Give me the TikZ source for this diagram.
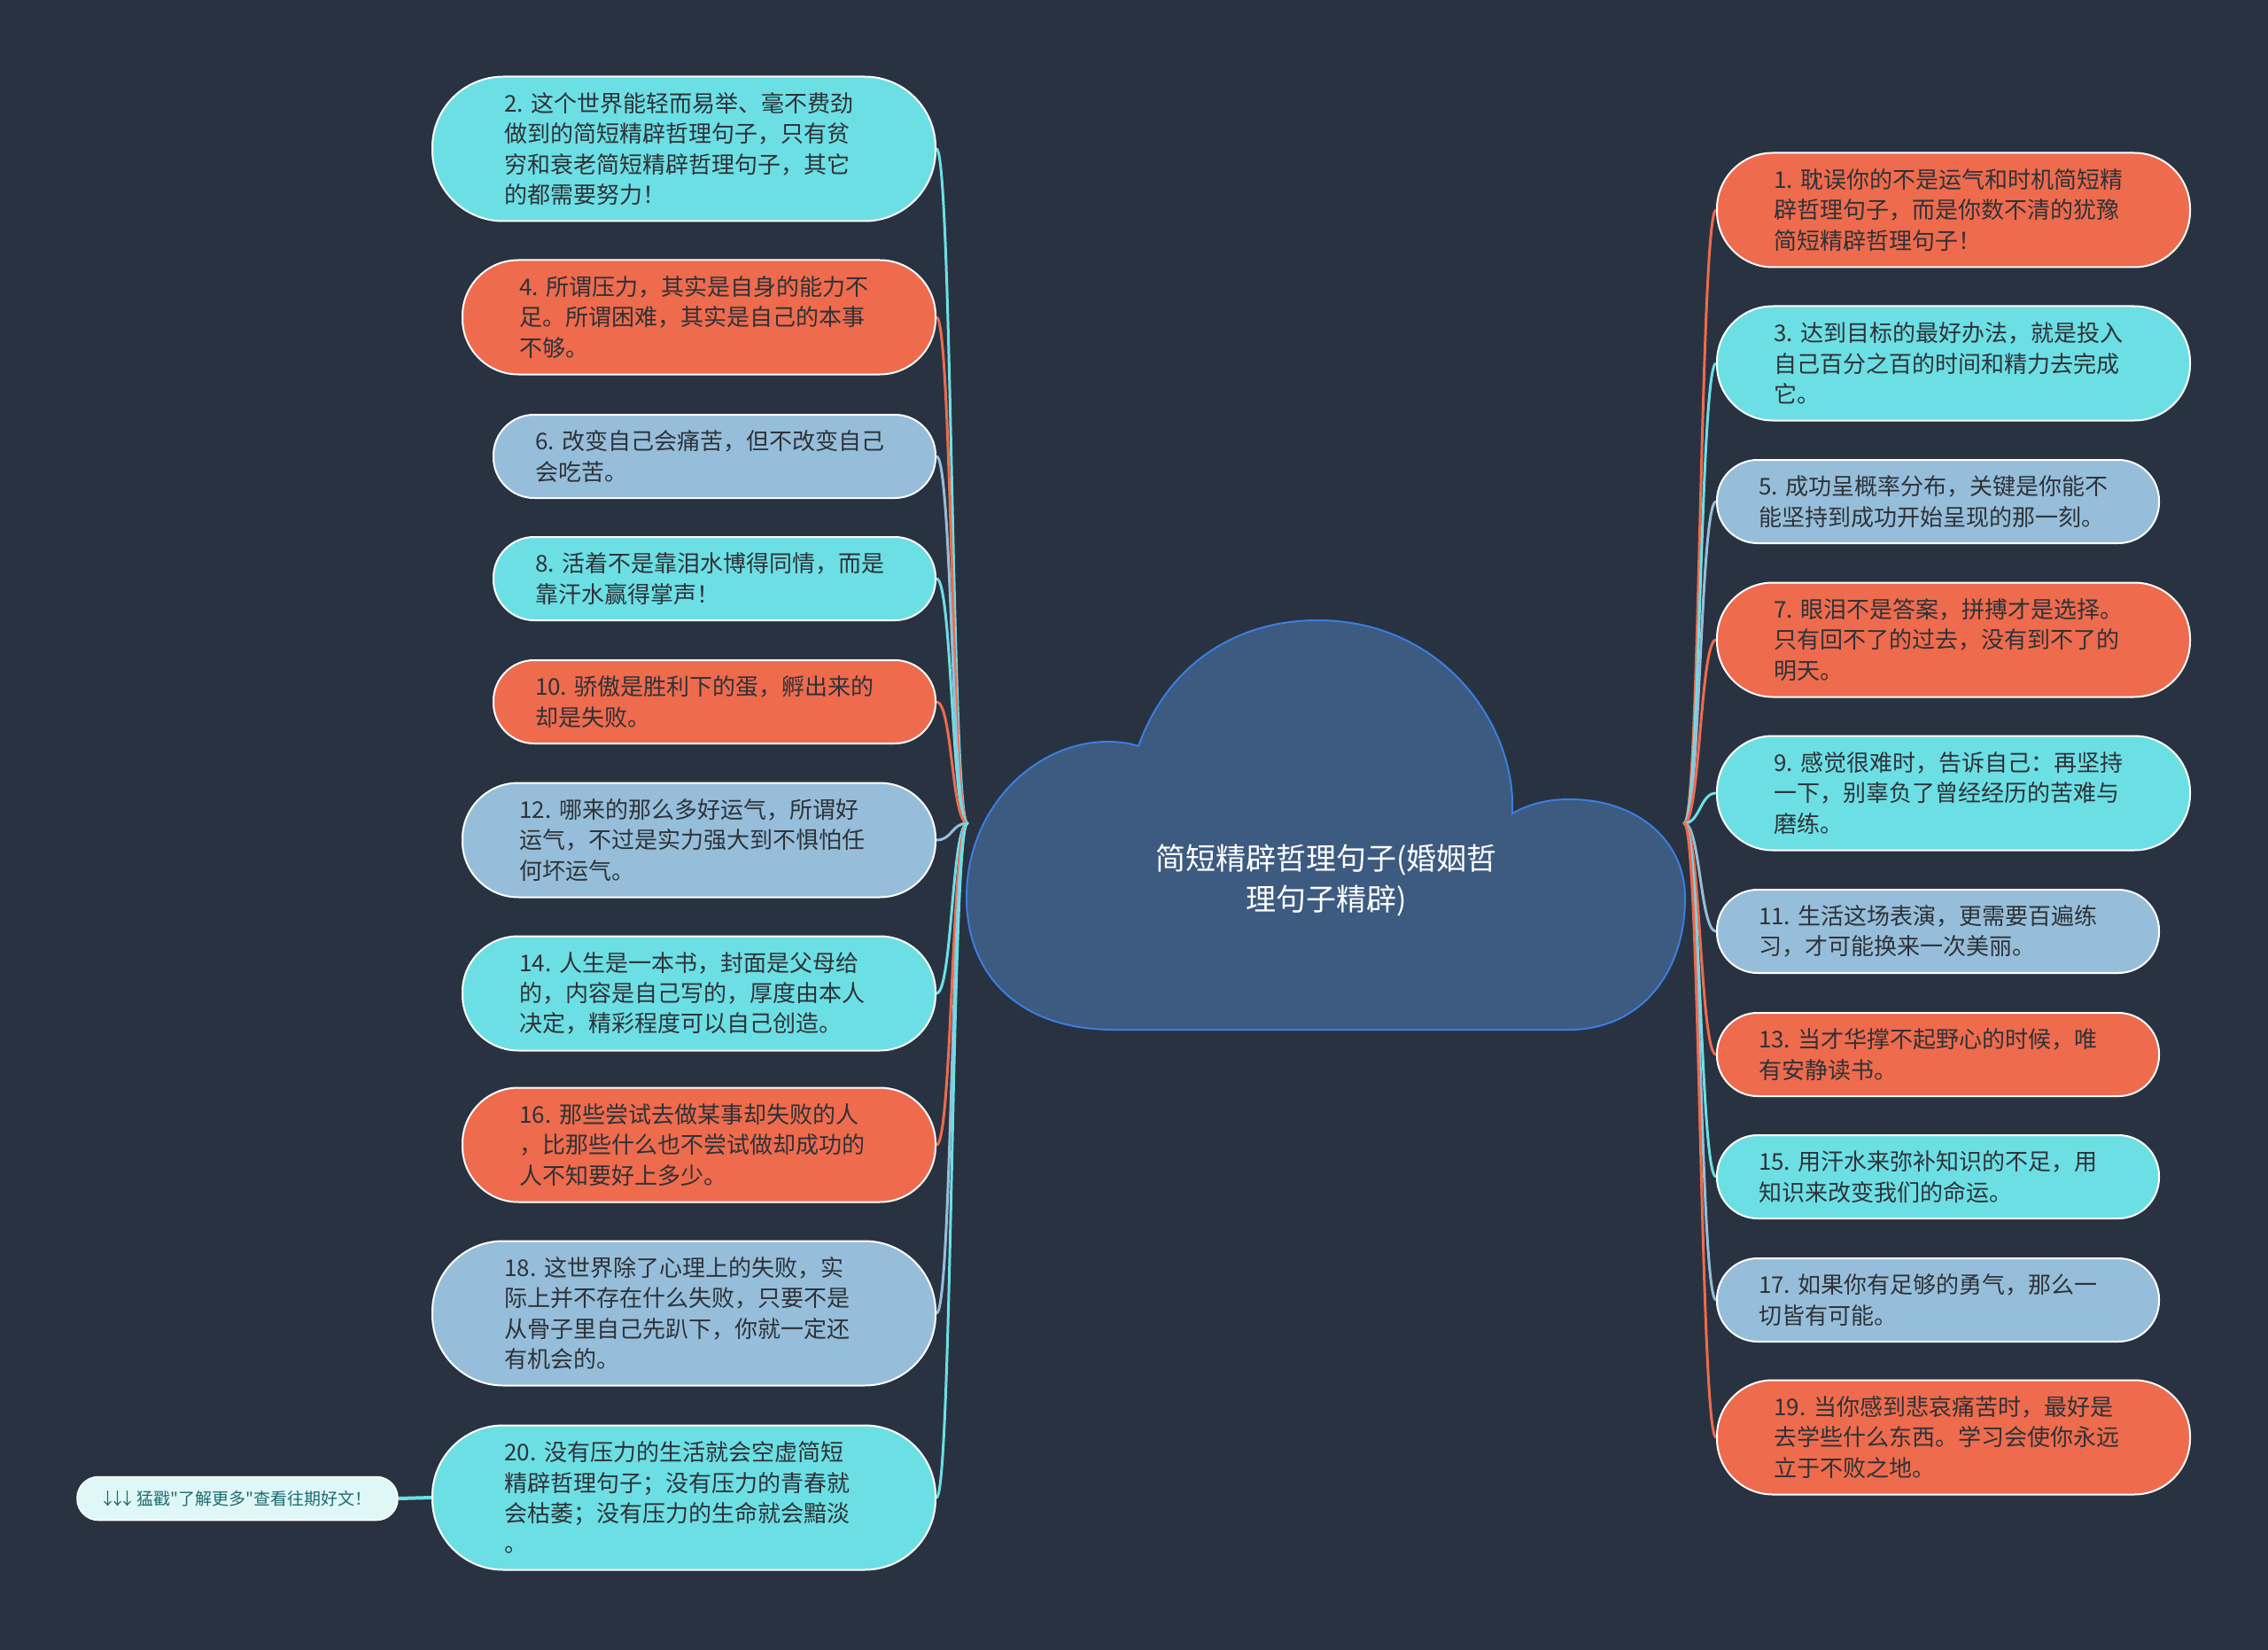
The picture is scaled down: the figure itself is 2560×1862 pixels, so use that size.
\documentclass[tikz,border=0pt]{standalone}
\usepackage{fontspec}
\newfontfamily\cjk{Noto Sans CJK SC}
\pgfdeclarelayer{bglayer}
\pgfdeclarelayer{linklayer}
\pgfsetlayers{bglayer,linklayer,main}
\definecolor{bgc}{HTML}{293241}
\definecolor{cyc}{HTML}{6CDFE4}
\definecolor{orc}{HTML}{EE6B4D}
\definecolor{lbc}{HTML}{96BEDA}
\definecolor{txc}{HTML}{2E3238}
\definecolor{cloudfill}{HTML}{3D5A80}
\definecolor{cloudline}{HTML}{3C7EE0}
\definecolor{tagfill}{HTML}{E0F7F7}
\definecolor{tagtext}{HTML}{1D6B70}
\tikzset{
  pill/.style={draw=white, line width=2pt, text=txc, align=left, text width=405pt,
    inner sep=0pt, font=\cjk\fontsize{26}{34.3}\selectfont},
  twol/.style={minimum height=94pt, minimum width=499pt, rounded corners=46pt},
  threel/.style={minimum height=129pt, minimum width=534pt, rounded corners=63pt},
  fourl/.style={minimum height=163pt, minimum width=568pt, rounded corners=80pt},
  cyanbox/.style={fill=cyc},
  orbox/.style={fill=orc},
  lbbox/.style={fill=lbc},
  link/.style={line width=3pt, line cap=round},
  tagbox/.style={draw=white, line width=1.5pt, fill=tagfill, text=tagtext,
    minimum width=362pt, minimum height=49pt, rounded corners=24pt, inner sep=0pt,
    font=\cjk\fontsize{19}{22}\selectfont},
  roottext/.style={text=white, align=center, font=\cjk\fontsize{34}{46}\selectfont}
}
\begin{document}
\begin{tikzpicture}[x=1pt,y=-1pt]
\useasboundingbox (0,0) rectangle (2560,1862);
\begin{pgfonlayer}{bglayer}
\fill[bgc] (0,0) rectangle (2560,1862);
\end{pgfonlayer}

% central cloud
\draw[fill=cloudfill, draw=cloudline, line width=2pt]
  (1257,1162) .. controls (1150,1162) and (1091,1100) .. (1091,1013)
  .. controls (1091,910) and (1170,837) .. (1250,837)
  .. controls (1265,837) and (1276,839) .. (1285,842)
  .. controls (1320,745) and (1400,700) .. (1487,700)
  .. controls (1630,700) and (1712,820) .. (1707,918)
  .. controls (1728,906) and (1750,902) .. (1771,902)
  .. controls (1850,902) and (1902,950) .. (1902,1013)
  .. controls (1902,1100) and (1850,1162) .. (1771,1162)
  -- cycle;
\node[roottext] (root) at (1497,993) {简短精辟哲理句子(婚姻哲\\理句子精辟)};
\coordinate (hubL) at (1092,929);
\coordinate (hubR) at (1901,929);

% left branch
\node[pill,fourl,cyanbox] (n2) at (772,168) {2.~这个世界能轻而易举、毫不费劲\\做到的简短精辟哲理句子，只有贫\\穷和衰老简短精辟哲理句子，其它\\的都需要努力！};
\node[pill,threel,orbox] (n4) at (789,358) {4.~所谓压力，其实是自身的能力不\\足。所谓困难，其实是自己的本事\\不够。};
\node[pill,twol,lbbox] (n6) at (806.5,515) {6.~改变自己会痛苦，但不改变自己\\会吃苦。};
\node[pill,twol,cyanbox] (n8) at (806.5,653) {8.~活着不是靠泪水博得同情，而是\\靠汗水赢得掌声！};
\node[pill,twol,orbox] (n10) at (806.5,792) {10.~骄傲是胜利下的蛋，孵出来的\\却是失败。};
\node[pill,threel,lbbox] (n12) at (789,948) {12.~哪来的那么多好运气，所谓好\\运气，不过是实力强大到不惧怕任\\何坏运气。};
\node[pill,threel,cyanbox] (n14) at (789,1121) {14.~人生是一本书，封面是父母给\\的，内容是自己写的，厚度由本人\\决定，精彩程度可以自己创造。};
\node[pill,threel,orbox] (n16) at (789,1292) {16.~那些尝试去做某事却失败的人\\，比那些什么也不尝试做却成功的\\人不知要好上多少。};
\node[pill,fourl,lbbox] (n18) at (772,1482) {18.~这世界除了心理上的失败，实\\际上并不存在什么失败，只要不是\\从骨子里自己先趴下，你就一定还\\有机会的。};
\node[pill,fourl,cyanbox] (n20) at (772,1690) {20.~没有压力的生活就会空虚简短\\精辟哲理句子；没有压力的青春就\\会枯萎；没有压力的生命就会黯淡\\。};
\node[tagbox] (tag) at (268,1691) {\kern-0.2em↓\kern-0.42em↓\kern-0.42em↓\kern-0.2em{} 猛戳"了解更多"查看往期好文！};

% right branch
\node[pill,threel,orbox] (n1) at (2205,237) {1.~耽误你的不是运气和时机简短精\\辟哲理句子，而是你数不清的犹豫\\简短精辟哲理句子！};
\node[pill,threel,cyanbox] (n3) at (2205,410) {3.~达到目标的最好办法，就是投入\\自己百分之百的时间和精力去完成\\它。};
\node[pill,twol,lbbox] (n5) at (2187.5,566) {5.~成功呈概率分布，关键是你能不\\能坚持到成功开始呈现的那一刻。};
\node[pill,threel,orbox] (n7) at (2205,722) {7.~眼泪不是答案，拼搏才是选择。\\只有回不了的过去，没有到不了的\\明天。};
\node[pill,threel,cyanbox] (n9) at (2205,895) {9.~感觉很难时，告诉自己：再坚持\\一下，别辜负了曾经经历的苦难与\\磨练。};
\node[pill,twol,lbbox] (n11) at (2187.5,1051) {11.~生活这场表演，更需要百遍练\\习，才可能换来一次美丽。};
\node[pill,twol,orbox] (n13) at (2187.5,1190) {13.~当才华撑不起野心的时候，唯\\有安静读书。};
\node[pill,twol,cyanbox] (n15) at (2187.5,1328) {15.~用汗水来弥补知识的不足，用\\知识来改变我们的命运。};
\node[pill,twol,lbbox] (n17) at (2187.5,1467) {17.~如果你有足够的勇气，那么一\\切皆有可能。};
\node[pill,threel,orbox] (n19) at (2205,1622) {19.~当你感到悲哀痛苦时，最好是\\去学些什么东西。学习会使你永远\\立于不败之地。};

% connectors
\begin{pgfonlayer}{linklayer}
\foreach \n/\c in {n2/cyc,n4/orc,n6/lbc,n8/cyc,n10/orc,n12/lbc,n14/cyc,n16/orc,n18/lbc,n20/cyc}
  \draw[link,\c] (\n.east) .. controls +(18,0) and +(-18,0) .. (hubL);
\foreach \n/\c in {n1/orc,n3/cyc,n5/lbc,n7/orc,n9/cyc,n11/lbc,n13/orc,n15/cyc,n17/lbc,n19/orc}
  \draw[link,\c] (\n.west) .. controls +(-18,0) and +(18,0) .. (hubR);
\draw[line width=4pt, cyc] (tag.east) -- (n20.west);
\end{pgfonlayer}
\end{tikzpicture}
\end{document}
